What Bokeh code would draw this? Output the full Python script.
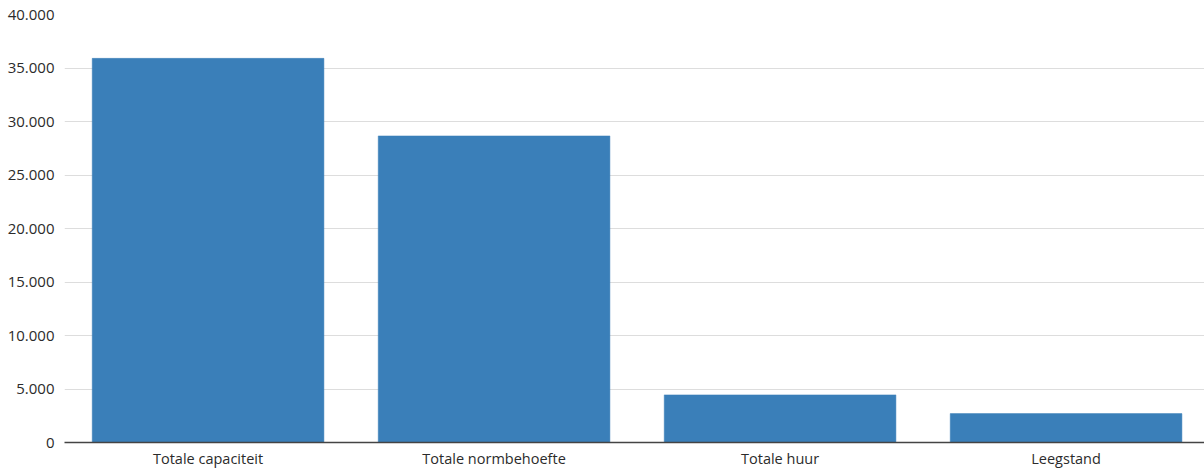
from bokeh.plotting import figure
from bokeh.models import Range1d, FixedTicker
from bokeh.embed import file_html
from bokeh.resources import INLINE

categories = ["Totale capaciteit", "Totale normbehoefte", "Totale huur", "Leegstand"]
values = [35900, 28650, 4450, 2700]
y_ticks = [0, 5000, 10000, 15000, 20000, 25000, 30000, 35000, 40000]
y_tick_labels = ["0", "5.000", "10.000", "15.000", "20.000", "25.000", "30.000", "35.000", "40.000"]

xs = list(range(len(categories)))

p = figure(width=1204, height=470, output_backend="svg", toolbar_location=None,
           x_range=Range1d(-0.502, 3.484), y_range=Range1d(0, 40000),
           min_border_left=64, min_border_right=0, min_border_top=14, min_border_bottom=28)
p.outline_line_color = None
p.vbar(x=xs, top=values, width=0.81, bottom=0, fill_color="#3a7fb9", line_color="#3a7fb9", line_width=0.5)

p.xaxis.ticker = FixedTicker(ticks=xs)
p.xaxis.major_label_overrides = {i: c for i, c in zip(xs, categories)}
p.yaxis.ticker = FixedTicker(ticks=y_ticks)
p.yaxis.major_label_overrides = {t: l for t, l in zip(y_ticks, y_tick_labels)}

for ax in (p.xaxis[0], p.yaxis[0]):
    ax.major_label_text_font = "Open Sans"
    ax.major_label_text_color = "#2b2b2b"
    ax.major_tick_line_color = None
    ax.minor_tick_line_color = None
    ax.major_tick_out = 0
    ax.major_tick_in = 0
p.xaxis.major_label_text_font_size = "14.5px"
p.yaxis.major_label_text_font_size = "15px"
p.xaxis.major_label_standoff = 6
p.yaxis.major_label_standoff = 10
p.yaxis.axis_line_color = None
p.xaxis.axis_line_color = "#444444"
p.xaxis.axis_line_width = 1.5
p.xgrid.grid_line_color = None
p.ygrid.grid_line_color = "#dddddd"

open("out.html", "w").write(file_html(p, INLINE))
